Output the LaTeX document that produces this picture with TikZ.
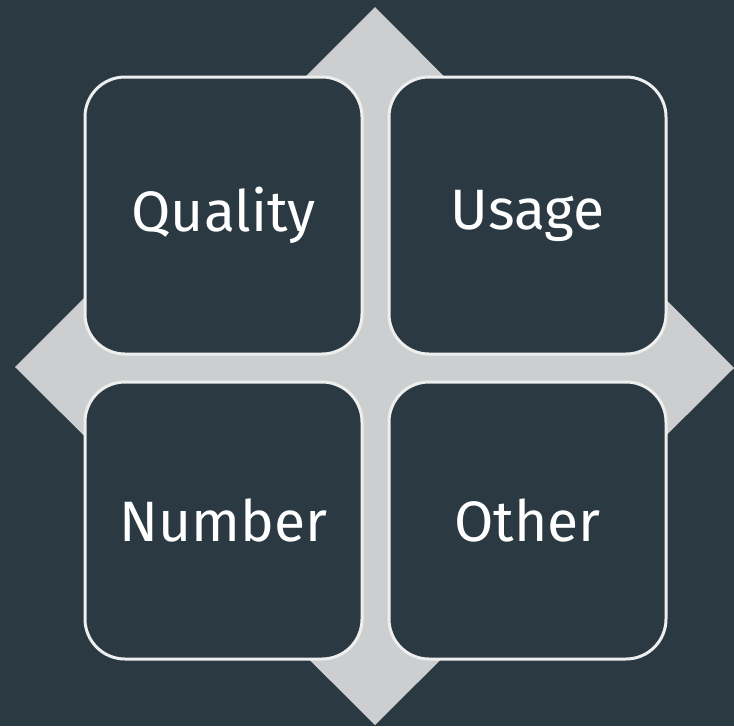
\documentclass[tikz,border=0pt]{standalone}
\usepackage{fontspec}
\setmainfont{Fira Sans}
\definecolor{bgc}{HTML}{2B3A42}
\definecolor{dia}{HTML}{CDCED0}
\definecolor{edge}{HTML}{EEEEEE}
\begin{document}
\begin{tikzpicture}[x=1pt,y=-1pt,
  cell/.style={draw=edge,line width=3pt,fill=bgc,rounded corners=40pt,
    minimum width=277pt,minimum height=277pt,inner sep=0pt,
    text=white,font=\fontsize{57}{62}\selectfont}]
\fill[bgc] (0,0) rectangle (734,726);
\useasboundingbox (0,0) rectangle (734,726);
\fill[dia] (375,7) -- (734,368) -- (375,725) -- (15,367) -- cycle;
\node[cell] (q) at (223.5,215.5) {Quality};
\node[cell] (u) at (527.5,215.5) {Usage};
\node[cell] (n) at (223.5,520.5) {Number};
\node[cell] (o) at (527.5,520.5) {Other};
\end{tikzpicture}
\end{document}
